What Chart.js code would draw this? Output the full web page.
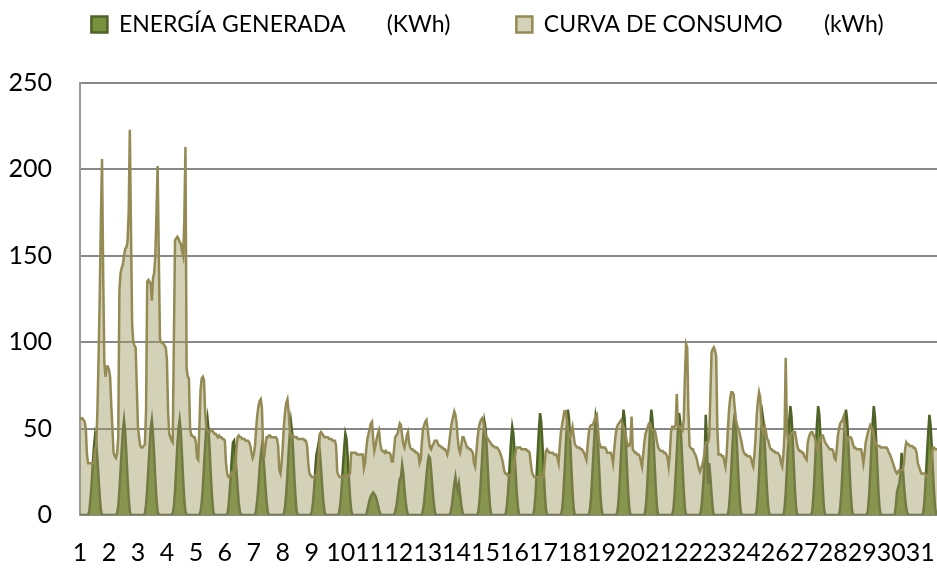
<!DOCTYPE html>
<html lang="es">
<head>
<meta charset="utf-8">
<title>Energía generada y curva de consumo</title>
<script src="https://cdn.jsdelivr.net/npm/chart.js@4.4.1/dist/chart.umd.min.js"></script>
<style>
    html, body { margin: 0; padding: 0; background: #fff; overflow: hidden; }
    #grafico { display: block; }
</style>
</head>
<body>
<canvas id="grafico" width="941" height="571"></canvas>
<script>
// Días del mes (una etiqueta por hora en el eje, 24 horas por día)
const dias = [1, 2, 3, 4, 5, 6, 7, 8, 9, 10, 11, 12, 13, 14, 15, 16,
    17, 18, 19, 20, 21, 22, 23, 24, 25, 26, 27, 28, 29, 30, 31];
const horasPorDia = 24;
const saltoEtiquetas = 25;   // Excel pone una etiqueta cada 25 puntos

const nombresSeries = ['ENERGÍA GENERADA       (KWh)', 'CURVA DE CONSUMO       (kWh)'];

// Eje Y
const yTicks = [0, 50, 100, 150, 200, 250];

// Energía generada, kWh por hora (un renglón = un día, de 0 h a 23 h)
const energiaGenerada = [
    0,0,0,0,0,0,0,0, 2,9,18,29,39,46,42,33,22,11,3, 0,0,0,0,0,
    0,0,0,0,0,0,0,0, 1,5,14,26,38,49,55,48,36,22,10, 2,0,0,0,0,
    0,0,0,0,0,0,0,0, 1,6,15,27,39,50,55,47,35,21,9, 2,0,0,0,0,
    0,0,0,0,0,0,0,0, 1,5,14,27,40,50,55,48,35,21,9, 2,0,0,0,0,
    0,0,0,0,0,0,0,0, 2,7,16,28,40,51,56,49,36,22,10, 2,0,0,0,0,
    0,0,0,0,0,0,0,0, 4,12,22,33,42,43,36,26,16,7,2, 0,0,0,0,0,
    0,0,0,0,0,0,0,0, 3,9,17,27,35,40,36,27,17,8,2, 0,0,0,0,0,
    0,0,0,0,0,0,0,0, 1,5,13,24,36,47,54,48,36,22,10, 2,0,0,0,0,
    0,0,0,0,0,0,0,0, 2,7,15,26,35,38,42,36,27,17,8, 2,0,0,0,0,
    0,0,0,0,0,0,0,0, 3,9,18,29,39,47,44,34,22,11,3, 0,0,0,0,0,
    0,0,0,0,0,0,0,0, 3,6,9,11,12,13,12,11,9,6,3, 1,0,0,0,0,
    0,0,0,0,0,0,0,0, 2,5,10,16,21,22,29,24,15,8,3, 0,0,0,0,0,
    0,0,0,0,0,0,0,0, 3,8,15,23,30,34,33,26,17,9,3, 0,0,0,0,0,
    0,0,0,0,0,0,0,0, 2,6,12,18,22,17,14,18,12,6,2, 0,0,0,0,0,
    0,0,0,0,0,0,0,0, 3,10,21,33,45,54,50,39,26,13,4, 0,0,0,0,0,
    0,0,0,0,0,0,0,0, 3,10,20,32,43,51,47,36,24,12,4, 0,0,0,0,0,
    0,0,0,0,0,0,0,0, 3,11,23,36,49,59,54,42,28,14,4, 0,0,0,0,0,
    0,0,0,0,0,0,0,0, 3,11,23,37,50,61,56,43,28,14,4, 0,0,0,0,0,
    0,0,0,0,0,0,0,0, 3,10,22,35,47,57,53,41,27,13,4, 0,0,0,0,0,
    0,0,0,0,0,0,0,0, 3,11,23,37,50,61,56,43,28,14,4, 0,0,0,0,0,
    0,0,0,0,0,0,0,0, 3,11,24,37,51,61,55,42,28,14,4, 0,0,0,0,0,
    0,0,0,0,0,0,0,0, 3,11,23,36,49,59,54,42,28,14,4, 0,0,0,0,0,
    0,0,0,0,0,0,0,0, 3,10,20,32,58,42,18,30,22,12,4, 0,0,0,0,0,
    0,0,0,0,0,0,0,0, 4,13,26,40,52,59,52,39,25,12,3, 0,0,0,0,0,
    0,0,0,0,0,0,0,0, 3,12,24,38,50,58,53,40,26,13,4, 0,0,0,0,0,
    0,0,0,0,0,0,0,0, 4,13,26,40,54,63,57,44,29,14,4, 0,0,0,0,0,
    0,0,0,0,0,0,0,0, 3,12,25,40,53,63,58,45,30,15,4, 0,0,0,0,0,
    0,0,0,0,0,0,0,0, 4,13,26,40,53,61,55,42,28,14,4, 0,0,0,0,0,
    0,0,0,0,0,0,0,0, 3,12,25,40,53,63,57,44,29,14,4, 0,0,0,0,0,
    0,0,0,0,0,0,0,0, 5,13,16,18,24,36,28,18,10,4,1, 0,0,0,0,0,
    0,0,0,0,0,0,0,0, 3,11,23,36,48,58,52,40,26,13,4, 0,0,0,0,0
];

// Curva de consumo, kWh por hora (un renglón = un día)
const curvaConsumo = [
    55,56,56,55,54,50,35,30,30,30,30,30,31,38,40,60,90,125,170,206,140,88,80,86,
    86,84,80,63,50,36,34,33,36,45,130,140,143,145,150,154,155,158,175,223,165,110,100,98,
    97,75,51,45,40,39,39,40,41,60,135,136,135,134,124,137,140,150,175,202,150,102,100,100,
    99,98,97,90,60,47,45,43,42,100,159,160,161,160,158,157,153,150,170,213,85,80,79,50,
    46,46,45,45,42,33,32,50,72,79,80,78,60,50,49,48,48,49,49,48,47,47,46,45,
    46,45,45,44,44,43,30,24,22,22,23,25,25,25,26,38,45,46,45,45,44,44,44,43,
    43,43,42,40,36,33,35,40,50,58,63,66,67,62,40,33,40,45,45,46,46,45,45,45,
    45,45,44,40,26,24,30,40,52,60,65,67,60,50,45,45,46,45,45,45,44,44,44,44,
    44,44,43,43,40,30,24,23,22,22,22,23,23,25,35,47,48,47,46,45,45,45,45,44,
    44,44,43,43,43,40,25,23,22,22,22,22,23,23,23,22,23,24,36,36,36,36,36,35,
    35,35,35,35,35,27,30,38,44,47,50,53,54,44,37,40,44,47,49,42,38,37,37,36,
    37,36,36,36,35,31,31,38,45,46,47,50,53,52,46,41,39,42,46,48,42,39,38,38,
    37,37,36,36,35,30,32,42,50,52,54,55,50,44,39,38,40,41,43,43,43,41,40,40,
    39,39,38,38,37,35,38,44,50,54,57,60,58,53,44,38,36,40,45,45,43,41,39,39,
    38,38,37,36,30,28,36,44,50,53,55,56,54,50,47,45,44,43,42,41,40,40,39,39,
    39,38,37,35,33,30,26,24,24,23,23,23,23,24,26,32,37,39,39,39,39,38,38,38,
    38,38,37,37,36,30,25,23,22,22,22,22,22,22,22,22,22,30,37,38,37,36,36,36,
    36,35,35,35,33,30,40,48,52,56,60,60,56,50,46,45,48,51,46,41,40,39,39,39,
    38,38,37,36,34,32,40,47,51,52,52,53,55,57,58,50,42,40,39,39,39,39,38,36,
    36,36,36,34,30,38,45,50,52,53,54,55,53,51,49,46,42,40,40,42,57,38,37,36,
    36,35,35,34,31,28,35,42,47,49,51,53,53,50,49,49,49,46,42,39,38,37,37,37,
    36,36,35,33,28,35,48,51,51,51,52,70,52,51,51,50,49,55,80,99,97,60,40,39,
    38,38,36,35,33,30,27,25,27,29,32,36,42,42,42,45,70,94,96,97,95,92,50,35,
    35,35,34,34,31,28,35,48,60,67,71,71,70,62,55,52,50,48,45,42,38,36,35,35,
    34,34,34,33,30,28,35,45,58,66,71,68,55,48,47,51,48,44,43,40,38,38,37,37,
    36,36,36,35,34,30,28,35,47,91,50,43,45,46,47,48,48,48,44,40,38,37,37,36,
    36,34,33,32,42,45,47,48,48,46,45,42,38,38,42,44,46,46,44,42,41,40,39,38,
    38,38,37,33,32,38,46,50,53,54,55,57,52,45,43,45,45,45,44,41,39,39,38,38,
    38,38,38,35,30,35,42,45,48,50,52,51,49,46,43,41,40,40,40,39,39,39,39,39,
    39,38,36,35,33,31,29,27,25,24,25,26,26,26,26,30,38,42,41,41,40,40,40,39,
    39,38,36,30,28,26,24,24,24,24,23,22,22,24,28,34,39,39,38,38,38,38,38,38
];

// Una etiqueta por cada punto horario: el número del día
const etiquetasHora = [];
dias.forEach(d => {
    for (let h = 0; h < horasPorDia; h++) etiquetasHora.push(d);
});

Chart.defaults.font.family = 'Lato, "Open Sans", sans-serif';
Chart.defaults.font.size = 25;
Chart.defaults.color = '#000';

// Leyenda: altura fija y un poco corrida a la derecha, como en el original
const ajusteLeyenda = {
    id: 'ajusteLeyenda',
    beforeInit(chart) {
        const fitOriginal = chart.legend.fit;
        chart.legend.fit = function () {
            fitOriginal.call(this);
            this.height = 83;
        };
    },
    afterLayout(chart) {
        chart.legend.left += 17;
        chart.legend.right += 17;
    }
};

const ctx = document.getElementById('grafico').getContext('2d');
const grafico = new Chart(ctx, {
    type: 'line',
    data: {
        labels: etiquetasHora,
        datasets: [
            {
                label: nombresSeries[0],
                data: energiaGenerada,
                borderColor: '#4F6228',
                backgroundColor: '#76923C',
                borderWidth: 2.5,
                pointRadius: 0,
                fill: 'origin',
                order: 1
            },
            {
                label: nombresSeries[1],
                data: curvaConsumo,
                borderColor: '#948A54',
                backgroundColor: 'rgba(160, 152, 100, 0.45)',
                borderWidth: 2.5,
                pointRadius: 0,
                fill: 'origin',
                order: 0   // se dibuja encima de la energía generada
            }
        ]
    },
    options: {
        responsive: false,
        animation: false,
        devicePixelRatio: 1,
        layout: { padding: 0, autoPadding: false },
        plugins: {
            legend: {
                position: 'top',
                labels: {
                    font: { size: 23 },
                    boxWidth: 16,
                    boxHeight: 16,
                    padding: 13,
                    sort: (a, b) => a.datasetIndex - b.datasetIndex,
                    generateLabels: (chart) => {
                        const items = Chart.defaults.plugins.legend.labels.generateLabels(chart);
                        items.forEach(it => {
                            if (it.datasetIndex === 0) it.text += '         ';
                        });
                        return items;
                    }
                }
            },
            tooltip: { enabled: false }
        },
        scales: {
            x: {
                grid: { display: false, drawTicks: false },
                border: { display: false },
                ticks: { autoSkip: false, maxRotation: 0, minRotation: 0, padding: 23 },
                afterBuildTicks: (axis) => {
                    axis.ticks = axis.ticks.filter(t => t.value % saltoEtiquetas === 0);
                },
                afterFit: (axis) => {
                    axis.height = 56;
                    axis.paddingLeft = 0;
                    axis.paddingRight = 0;
                }
            },
            y: {
                min: yTicks[0],
                max: yTicks[yTicks.length - 1],
                ticks: { stepSize: 50, padding: 28 },
                grid: { color: '#888888', lineWidth: 2, drawTicks: false },
                border: { color: '#9a9a9a', width: 2 },
                afterFit: (axis) => { axis.width = 80; }
            }
        }
    },
    plugins: [ajusteLeyenda]
});
</script>
</body>
</html>
